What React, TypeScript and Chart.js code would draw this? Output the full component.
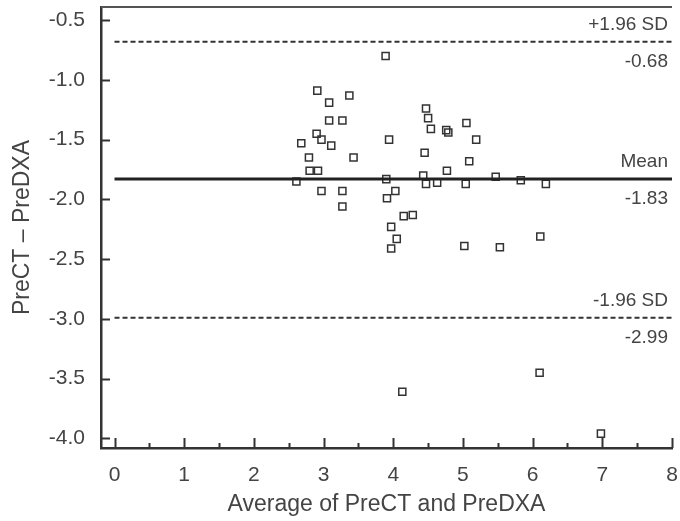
import React, { useEffect, useRef } from "react";
import { Chart, registerables } from "chart.js";

Chart.register(...registerables);

// Average of PreCT and PreDXA (x) and difference PreCT − PreDXA (y)
const AVG_VALUES = [
  2.61, 2.68, 2.79, 2.80, 2.92, 2.90, 2.97, 2.91, 3.08, 3.08,
  3.11, 2.97, 3.27, 3.27, 3.27, 3.37, 3.43, 3.89, 3.94, 3.90,
  3.91, 4.03, 4.15, 4.28, 3.97, 4.05, 3.97, 4.47, 4.50, 4.54,
  4.76, 4.79, 5.05, 5.19, 4.45, 5.09, 4.43, 4.47, 4.63, 4.77,
  5.04, 5.47, 5.83, 6.19, 5.02, 5.53, 6.11, 4.13, 6.10, 6.98,
];
const DIFF_VALUES = [
  -1.85, -1.53, -1.65, -1.76, -1.76, -1.45, -1.50, -1.09, -1.19, -1.34,
  -1.55, -1.93, -1.34, -1.93, -2.06, -1.13, -1.65, -0.80, -1.50, -1.83,
  -1.99, -1.93, -2.14, -2.13, -2.23, -2.33, -2.41, -1.24, -1.32, -1.41,
  -1.42, -1.44, -1.36, -1.50, -1.61, -1.68, -1.80, -1.87, -1.86, -1.76,
  -1.87, -1.81, -1.84, -1.87, -2.39, -2.40, -2.31, -3.61, -3.45, -3.96,
];

const MEAN_DIFF = -1.83;
const UPPER_LOA = -0.68;
const LOWER_LOA = -2.99;
const LINE_NAMES = ["+1.96 SD", "Mean", "-1.96 SD"];
const LINE_VALUES = [UPPER_LOA, MEAN_DIFF, LOWER_LOA];

const X_TICKS = [0, 1, 2, 3, 4, 5, 6, 7, 8];
const Y_TICKS = [-4.0, -3.5, -3.0, -2.5, -2.0, -1.5, -1.0, -0.5];

const X_TITLE = "Average of PreCT and PreDXA";
const Y_TITLE = "PreCT – PreDXA";

const FONT = '"Liberation Sans", Arial, Helvetica, sans-serif';
const TEXT = "#444";
const INK = "#333";

const decorPlugin = {
  id: "baDecor",
  afterDraw(chart: any) {
    const { ctx, chartArea: a, scales } = chart;
    const x = scales.x;
    const y = scales.y;
    ctx.save();
    // top frame line
    ctx.strokeStyle = "#555";
    ctx.lineWidth = 2;
    ctx.beginPath();
    ctx.moveTo(a.left, a.top);
    ctx.lineTo(a.right, a.top);
    ctx.stroke();
    // inward ticks
    ctx.strokeStyle = INK;
    ctx.lineWidth = 2;
    ctx.beginPath();
    y.ticks.forEach((t: any) => {
      const py = Math.round(y.getPixelForValue(t.value)) + 0.5;
      ctx.moveTo(a.left, py);
      ctx.lineTo(a.left + 9, py);
    });
    x.ticks.forEach((t: any) => {
      const px = Math.round(x.getPixelForValue(t.value)) + 0.5;
      ctx.moveTo(px, a.bottom);
      ctx.lineTo(px, a.bottom - 10);
    });
    for (let i = 0; i < X_TICKS.length - 1; i++) {
      const mid = (X_TICKS[i] + X_TICKS[i + 1]) / 2;
      const px = Math.round(x.getPixelForValue(mid)) + 0.5;
      ctx.moveTo(px, a.bottom);
      ctx.lineTo(px, a.bottom - 5);
    }
    ctx.stroke();
    // reference line labels
    ctx.font = `19px ${FONT}`;
    ctx.fillStyle = TEXT;
    ctx.textAlign = "right";
    ctx.textBaseline = "middle";
    LINE_VALUES.forEach((v, i) => {
      const py = y.getPixelForValue(v);
      ctx.fillText(LINE_NAMES[i], a.right - 4, py - 17);
      ctx.fillText(v.toFixed(2), a.right - 4, py + 20);
    });
    ctx.restore();
  },
};

export default function App() {
  const ref = useRef<HTMLCanvasElement | null>(null);

  useEffect(() => {
    if (!ref.current) return;
    const points = AVG_VALUES.map((v, i) => ({ x: v, y: DIFF_VALUES[i] }));
    const x0 = X_TICKS[0];
    const x1 = X_TICKS[X_TICKS.length - 1];
    const hLine = (v: number) => [
      { x: x0, y: v },
      { x: x1, y: v },
    ];
    const chart = new Chart(ref.current, {
      type: "scatter",
      data: {
        datasets: [
          {
            type: "line",
            data: hLine(UPPER_LOA),
            borderColor: INK,
            borderWidth: 2,
            borderDash: [5, 3],
            pointRadius: 0,
            fill: false,
          } as any,
          {
            type: "line",
            data: hLine(MEAN_DIFF),
            borderColor: "#222",
            borderWidth: 3,
            pointRadius: 0,
            fill: false,
          } as any,
          {
            type: "line",
            data: hLine(LOWER_LOA),
            borderColor: INK,
            borderWidth: 2,
            borderDash: [5, 3],
            pointRadius: 0,
            fill: false,
          } as any,
          {
            type: "scatter",
            data: points,
            pointStyle: "rect",
            pointRadius: 5,
            borderColor: INK,
            borderWidth: 1.5,
            backgroundColor: "rgba(255,255,255,0)",
          },
        ],
      },
      options: {
        animation: false,
        responsive: false,
        events: [],
        layout: { padding: { top: 7, right: 8, left: 0, bottom: 0 } },
        plugins: { legend: { display: false }, tooltip: { enabled: false } },
        scales: {
          x: {
            type: "linear",
            min: -0.194,
            max: 8,
            afterFit: (s: any) => {
              s.height = 73;
              s.paddingLeft = 0;
              s.paddingRight = 0;
              s.paddingTop = 0;
              s.paddingBottom = 0;
            },
            afterBuildTicks: (s: any) => {
              s.ticks = X_TICKS.map((value) => ({ value }));
            },
            grid: { display: false, drawTicks: false },
            border: { display: true, color: INK, width: 2.5 },
            ticks: {
              padding: 15,
              color: TEXT,
              font: { family: FONT, size: 21 },
              callback: (v: any) => String(v),
            },
            title: {
              display: true,
              text: X_TITLE,
              color: TEXT,
              font: { family: FONT, size: 23 },
              padding: { top: 0, bottom: 3 },
            },
          },
          y: {
            type: "linear",
            min: -4.08,
            max: -0.39,
            afterFit: (s: any) => {
              s.width = 101;
              s.paddingLeft = 0;
              s.paddingRight = 0;
              s.paddingTop = 0;
              s.paddingBottom = 0;
            },
            afterBuildTicks: (s: any) => {
              s.ticks = Y_TICKS.map((value) => ({ value }));
            },
            grid: { display: false, drawTicks: false },
            border: { display: true, color: INK, width: 2.5 },
            ticks: {
              padding: 16,
              color: TEXT,
              font: { family: FONT, size: 21 },
              callback: (v: any) => Number(v).toFixed(1),
            },
            title: {
              display: true,
              text: Y_TITLE,
              color: TEXT,
              font: { family: FONT, size: 23 },
              padding: { top: 9, bottom: 0 },
            },
          },
        },
      },
      plugins: [decorPlugin],
    });
    return () => chart.destroy();
  }, []);

  return (
    <div style={{ position: "fixed", left: 0, top: 0, width: 680, height: 521, background: "#fff" }}>
      <canvas ref={ref} width={680} height={521} style={{ display: "block" }} />
    </div>
  );
}
